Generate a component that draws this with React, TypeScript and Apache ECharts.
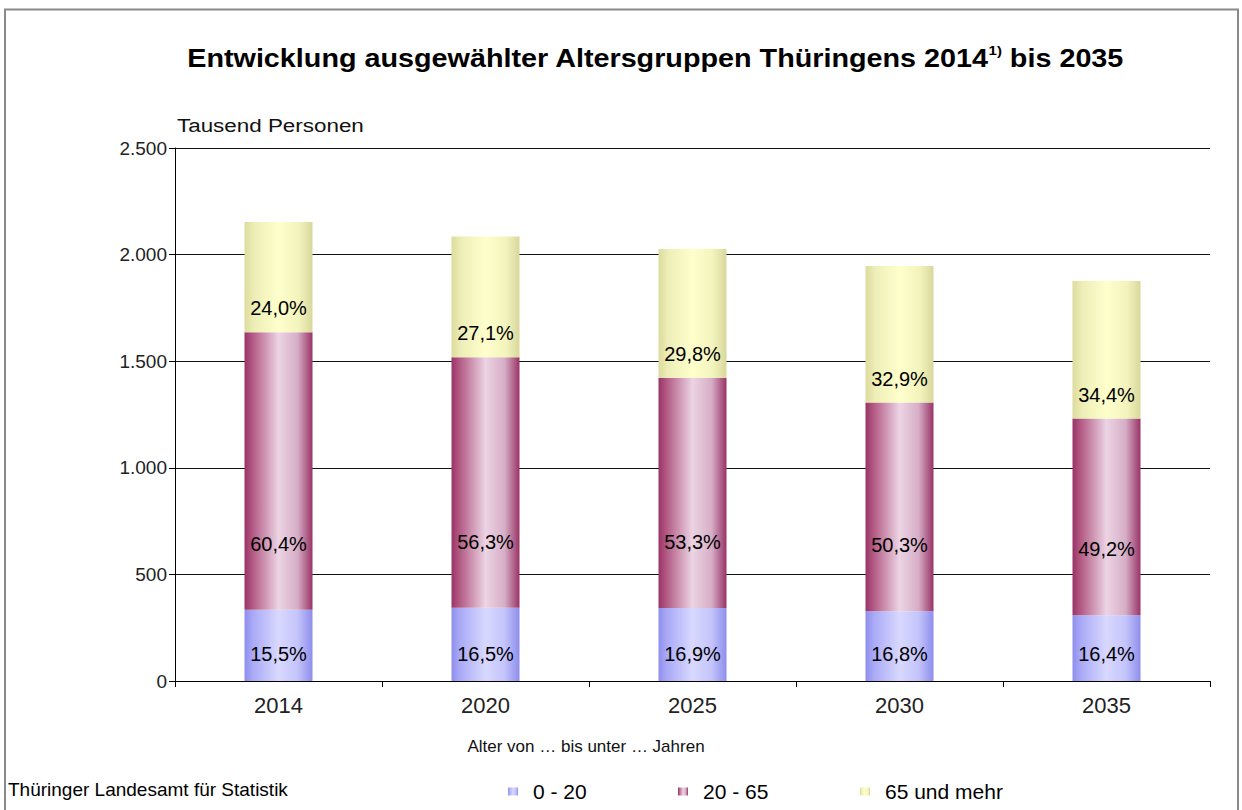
import React, { useEffect, useRef } from 'react';
import * as echarts from 'echarts';

const years = ['2014', '2020', '2025', '2030', '2035'];
const seriesNames = ['0 - 20', '20 - 65', '65 und mehr'];
// Tausend Personen
const age0to20 = [334, 344, 342, 327, 308];
const age20to65 = [1302, 1175, 1080, 979, 923];
const age65plus = [517, 566, 604, 640, 645];
// Anteile in %
const pct0to20 = [15.5, 16.5, 16.9, 16.8, 16.4];
const pct20to65 = [60.4, 56.3, 53.3, 50.3, 49.2];
const pct65plus = [24.0, 27.1, 29.8, 32.9, 34.4];

const FONT = '"Liberation Sans", Arial, sans-serif';

const fmtPct = (v: number) => v.toFixed(1).replace('.', ',') + '%';
const fmtThousands = (v: number) => String(v).replace(/\B(?=(\d{3})+(?!\d))/g, '.');

const grad = (stops: [number, string][]) =>
  new echarts.graphic.LinearGradient(0, 0, 1, 0, stops.map(([offset, color]) => ({ offset, color })));

const blueGrad = grad([
  [0, '#8e8eee'],
  [0.12, '#a9a9f7'],
  [0.5, '#d8d8ff'],
  [0.78, '#c4c4fb'],
  [1, '#8e8eec'],
]);
const redGrad = grad([
  [0, '#993366'],
  [0.12, '#b35a84'],
  [0.5, '#ecd4e4'],
  [0.78, '#d6aec6'],
  [1, '#993366'],
]);
const yellowGrad = grad([
  [0, '#dcdc9e'],
  [0.15, '#eeeeb8'],
  [0.5, '#ffffcc'],
  [0.8, '#f3f3bd'],
  [1, '#d8d89c'],
]);

export default function App() {
  const ref = useRef<HTMLDivElement>(null);

  useEffect(() => {
    if (!ref.current) return;
    const chart = echarts.init(ref.current, undefined, { renderer: 'svg' });

    const labelBase = {
      show: true,
      color: '#000',
      fontFamily: FONT,
      fontSize: 20,
    };

    const legendCommon = {
      top: 776,
      icon: 'rect',
      itemWidth: 10,
      itemHeight: 8,
      textStyle: { fontFamily: FONT, fontSize: 21, color: '#000', padding: [0, 0, 0, 10] },
      selectedMode: false as const,
    };

    chart.setOption({
      animation: false,
      backgroundColor: '#fff',
      grid: { left: 175, right: 32, top: 148, bottom: 129, containLabel: false },
      xAxis: {
        type: 'category',
        data: years,
        axisLine: { lineStyle: { color: '#000', width: 1 } },
        axisTick: { show: true, inside: false, length: 6, lineStyle: { color: '#000' } },
        axisLabel: { color: '#222', fontFamily: FONT, fontSize: 22, margin: 13 },
      },
      yAxis: {
        type: 'value',
        min: 0,
        max: 2500,
        interval: 500,
        axisLine: { show: true, lineStyle: { color: '#000', width: 1 } },
        axisTick: { show: true, inside: false, length: 6, lineStyle: { color: '#000' } },
        axisLabel: {
          color: '#222',
          fontFamily: FONT,
          fontSize: 19,
          margin: 8,
          formatter: (v: number) => fmtThousands(v),
        },
        splitLine: { show: true, lineStyle: { color: '#111', width: 1 } },
      },
      legend: [
        { ...legendCommon, left: 503, data: [seriesNames[0]] },
        { ...legendCommon, left: 673, data: [seriesNames[1]] },
        { ...legendCommon, left: 855, data: [seriesNames[2]] },
      ],
      series: [
        {
          name: seriesNames[0],
          type: 'bar',
          stack: 'total',
          barWidth: 68,
          data: age0to20,
          itemStyle: { color: blueGrad },
          label: {
            ...labelBase,
            position: 'insideBottom',
            distance: 17,
            formatter: (p: any) => fmtPct(pct0to20[p.dataIndex]),
          },
        },
        {
          name: seriesNames[1],
          type: 'bar',
          stack: 'total',
          barWidth: 68,
          data: age20to65,
          itemStyle: { color: redGrad },
          label: {
            ...labelBase,
            position: 'insideBottom',
            distance: 56,
            formatter: (p: any) => fmtPct(pct20to65[p.dataIndex]),
          },
        },
        {
          name: seriesNames[2],
          type: 'bar',
          stack: 'total',
          barWidth: 68,
          data: age65plus,
          itemStyle: { color: yellowGrad },
          label: {
            ...labelBase,
            position: 'insideBottom',
            distance: 14,
            formatter: (p: any) => fmtPct(pct65plus[p.dataIndex]),
          },
        },
      ],
      graphic: [
        {
          type: 'rect',
          z: -10,
          shape: { x: 5, y: 9.5, width: 1233, height: 830 },
          style: { fill: 'none', stroke: '#8a8a8a', lineWidth: 2 },
        },
        {
          type: 'text',
          x: 655,
          y: 59,
          scaleX: 1.15,
          style: {
            text: '{a|Entwicklung ausgewählter Altersgruppen Thüringens 2014}{s|1)}{a| bis 2035}',
            align: 'center',
            verticalAlign: 'middle',
            rich: {
              a: { fontFamily: FONT, fontSize: 25, fontWeight: 'bold', fill: '#000', lineHeight: 30 },
              s: { fontFamily: FONT, fontSize: 13, fontWeight: 'bold', fill: '#000', verticalAlign: 'top', lineHeight: 16 },
            },
          },
        },
        {
          type: 'text',
          x: 177,
          y: 125,
          scaleX: 1.18,
          style: {
            text: 'Tausend Personen',
            font: `19px ${FONT}`,
            fill: '#111',
            align: 'left',
            verticalAlign: 'middle',
          },
        },
        {
          type: 'text',
          x: 586,
          y: 746,
          style: {
            text: 'Alter von … bis unter … Jahren',
            font: `17px ${FONT}`,
            fill: '#111',
            align: 'center',
            verticalAlign: 'middle',
          },
        },
        {
          type: 'text',
          x: 8,
          y: 789,
          style: {
            text: 'Thüringer Landesamt für Statistik',
            font: `19px ${FONT}`,
            fill: '#000',
            align: 'left',
            verticalAlign: 'middle',
          },
        },
      ],
    });

    return () => chart.dispose();
  }, []);

  return (
    <div
      ref={ref}
      style={{ position: 'fixed', left: 0, top: 0, width: 1242, height: 810, background: '#fff' }}
    />
  );
}
